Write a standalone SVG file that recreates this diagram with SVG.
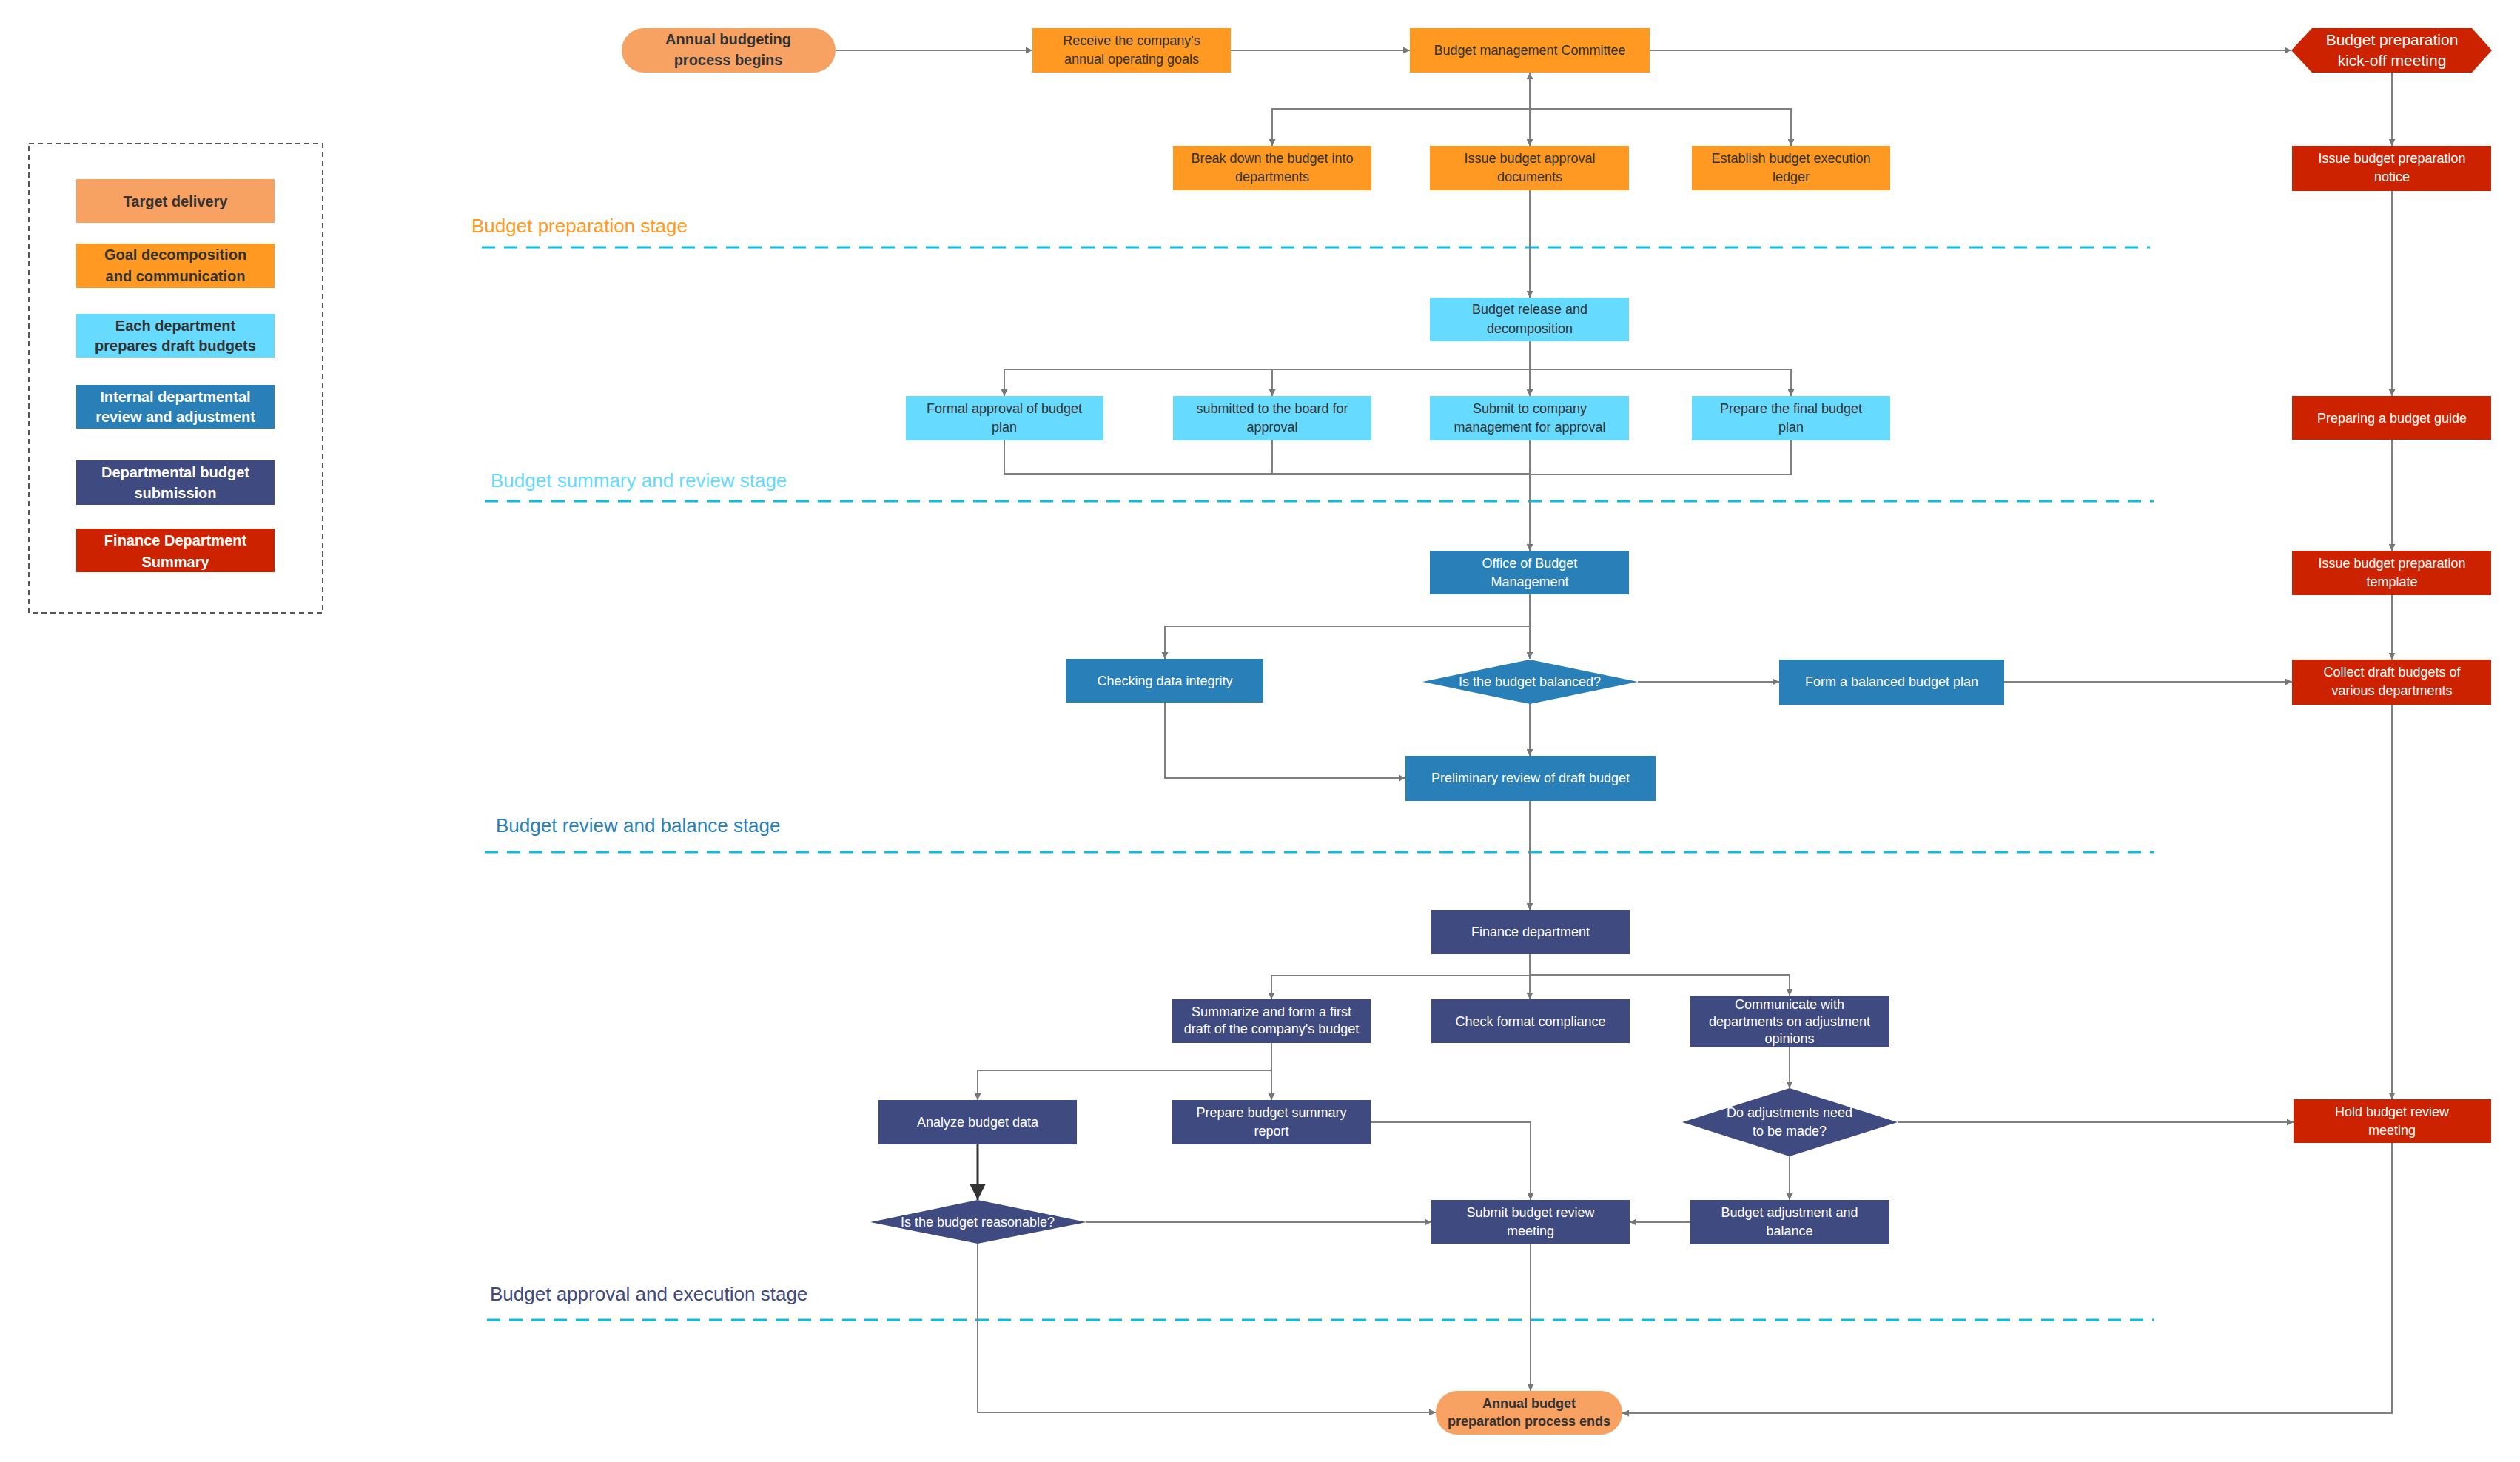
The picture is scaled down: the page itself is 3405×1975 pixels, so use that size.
<svg xmlns="http://www.w3.org/2000/svg" width="3405" height="1975" viewBox="0 0 3405 1975">
<defs>
<marker id="ar" viewBox="0 0 10 10" refX="10" refY="5" markerWidth="9" markerHeight="9" markerUnits="userSpaceOnUse" orient="auto"><path d="M0,0 L10,5 L0,10 z" fill="#777"/></marker>
<marker id="ar2" viewBox="0 0 10 10" refX="10" refY="5" markerWidth="7" markerHeight="7" orient="auto"><path d="M0,0 L10,5 L0,10 z" fill="#333"/></marker>
<style>
text{font-family:"Liberation Sans",Arial,sans-serif;text-anchor:middle;dominant-baseline:central}
.t{font-size:18px}
.d{fill:#333}
.w{fill:#fff}
.b{font-weight:bold;font-size:20px}
.peach{fill:#F7A163}
.org{fill:#FF9922}
.cyan{fill:#66DAFF}
.blue{fill:#2980B9}
.navy{fill:#3F4A80}
.red{fill:#CC2200}
.stage{font-size:26px;text-anchor:start}
.dash{stroke:#0BBEE0;stroke-width:3;stroke-dasharray:18 12;fill:none}
#connectors path{fill:none;stroke:#808080;stroke-width:2}
</style>
</defs>
<rect x="0" y="0" width="3405" height="1975" fill="#fff"/>

<g id="legend">
<rect x="39" y="194" width="397" height="634" fill="none" stroke="#555" stroke-width="2" stroke-dasharray="7 5"/>
<rect x="103" y="242" width="268" height="59" class="peach"/><text x="237" y="271.5" class="b d">Target delivery</text>
<rect x="103" y="329" width="268" height="60" class="org"/><text x="237" y="344" class="b d">Goal decomposition</text><text x="237" y="373" class="b d">and communication</text>
<rect x="103" y="424" width="268" height="59" class="cyan"/><text x="237" y="440" class="b d">Each department</text><text x="237" y="467" class="b d">prepares draft budgets</text>
<rect x="103" y="520" width="268" height="59" class="blue"/><text x="237" y="536" class="b w">Internal departmental</text><text x="237" y="563" class="b w">review and adjustment</text>
<rect x="103" y="622" width="268" height="60" class="navy"/><text x="237" y="638" class="b w">Departmental budget</text><text x="237" y="666" class="b w">submission</text>
<rect x="103" y="714" width="268" height="59" class="red"/><text x="237" y="730" class="b w">Finance Department</text><text x="237" y="759" class="b w">Summary</text>
</g>

<g id="stages">
<text x="637" y="305" class="stage" fill="#FF9922">Budget preparation stage</text>
<path d="M651,334 H2905" class="dash"/>
<text x="663" y="649" class="stage" fill="#66D9FF">Budget summary and review stage</text>
<path d="M655,677 H2910" class="dash"/>
<text x="670" y="1115" class="stage" fill="#2980B9">Budget review and balance stage</text>
<path d="M655,1151 H2911" class="dash"/>
<text x="662" y="1748" class="stage" fill="#3F4A80">Budget approval and execution stage</text>
<path d="M658,1783 H2911" class="dash"/>
</g>

<g id="connectors">
<path d="M1129,68 H1395" marker-end="url(#ar)"/>
<path d="M1663,68 H1905" marker-end="url(#ar)"/>
<path d="M2229,68 H3096" marker-end="url(#ar)"/>
<path d="M2067,147 V98" marker-end="url(#ar)"/>
<path d="M2067,98 V197" marker-end="url(#ar)"/>
<path d="M2067,147 H1719 V197" marker-end="url(#ar)"/>
<path d="M2067,147 H2420 V197" marker-end="url(#ar)"/>
<path d="M2067,257 V402" marker-end="url(#ar)"/>
<path d="M2067,461 V535" marker-end="url(#ar)"/>
<path d="M2067,499 H1357 V535" marker-end="url(#ar)"/>
<path d="M1719,499 V535" marker-end="url(#ar)"/>
<path d="M2067,499 H2420 V535" marker-end="url(#ar)"/>
<path d="M1357,595 V640 H2067"/>
<path d="M1719,595 V640"/>
<path d="M2420,595 V641 H2067"/>
<path d="M2067,595 V744" marker-end="url(#ar)"/>
<path d="M2067,803 V890" marker-end="url(#ar)"/>
<path d="M2067,846 H1574 V890" marker-end="url(#ar)"/>
<path d="M2213,921 H2404" marker-end="url(#ar)"/>
<path d="M2708,921 H3097" marker-end="url(#ar)"/>
<path d="M2067,951 V1021" marker-end="url(#ar)"/>
<path d="M1574,949 V1051 H1899" marker-end="url(#ar)"/>
<path d="M2067,1082 V1229" marker-end="url(#ar)"/>
<path d="M2067,1289 V1350" marker-end="url(#ar)"/>
<path d="M2067,1318 H1718 V1350" marker-end="url(#ar)"/>
<path d="M2067,1317 H2418 V1345" marker-end="url(#ar)"/>
<path d="M1718,1409 V1486" marker-end="url(#ar)"/>
<path d="M1718,1446 H1321 V1486" marker-end="url(#ar)"/>
<path d="M1321,1546 V1621" marker-end="url(#ar2)" style="stroke:#333;stroke-width:3"/>
<path d="M1468,1651 H1934" marker-end="url(#ar)"/>
<path d="M1852,1516 H2068 V1621" marker-end="url(#ar)"/>
<path d="M2418,1415 V1470" marker-end="url(#ar)"/>
<path d="M2564,1516 H3099" marker-end="url(#ar)"/>
<path d="M2418,1562 V1621" marker-end="url(#ar)"/>
<path d="M2284,1651 H2202" marker-end="url(#ar)"/>
<path d="M2068,1680 V1879" marker-end="url(#ar)"/>
<path d="M1321,1680 V1908 H1940" marker-end="url(#ar)"/>
<path d="M3232,1544 V1909 H2192" marker-end="url(#ar)"/>
<path d="M3232,98 V197" marker-end="url(#ar)"/>
<path d="M3232,258 V535" marker-end="url(#ar)"/>
<path d="M3232,594 V744" marker-end="url(#ar)"/>
<path d="M3232,804 V891" marker-end="url(#ar)"/>
<path d="M3232,952 V1485" marker-end="url(#ar)"/>
</g>

<g id="n-start"><rect x="840" y="38" width="289" height="60" rx="30" class="peach"/><text x="984" y="53" class="b d">Annual budgeting</text><text x="984" y="81" class="b d">process begins</text></g>
<g id="n-receive"><rect x="1395" y="38" width="268" height="60" class="org"/><text x="1529" y="55" class="t d">Receive the company's</text><text x="1529" y="80" class="t d">annual operating goals</text></g>
<g id="n-bmc"><rect x="1905" y="38" width="324" height="60" class="org"/><text x="2067" y="68" class="t d">Budget management Committee</text></g>
<g id="n-kickoff"><polygon points="3096,68 3124,38 3340,38 3367,68 3340,98 3124,98" class="red"/><text x="3232" y="53" class="w" style="font-size:21px">Budget preparation</text><text x="3232" y="81" class="w" style="font-size:21px">kick-off meeting</text></g>
<g id="n-break"><rect x="1585" y="197" width="268" height="60" class="org"/><text x="1719" y="214" class="t d">Break down the budget into</text><text x="1719" y="239" class="t d">departments</text></g>
<g id="n-issueappr"><rect x="1932" y="197" width="269" height="60" class="org"/><text x="2067" y="214" class="t d">Issue budget approval</text><text x="2067" y="239" class="t d">documents</text></g>
<g id="n-ledger"><rect x="2286" y="197" width="268" height="60" class="org"/><text x="2420" y="214" class="t d">Establish budget execution</text><text x="2420" y="239" class="t d">ledger</text></g>
<g id="n-notice"><rect x="3097" y="197" width="269" height="61" class="red"/><text x="3232" y="214" class="t w">Issue budget preparation</text><text x="3232" y="239" class="t w">notice</text></g>
<g id="n-release"><rect x="1932" y="402" width="269" height="59" class="cyan"/><text x="2067" y="418" class="t d">Budget release and</text><text x="2067" y="444" class="t d">decomposition</text></g>
<g id="n-formal"><rect x="1224" y="535" width="267" height="60" class="cyan"/><text x="1357" y="552" class="t d">Formal approval of budget</text><text x="1357" y="577" class="t d">plan</text></g>
<g id="n-board"><rect x="1585" y="535" width="268" height="60" class="cyan"/><text x="1719" y="552" class="t d">submitted to the board for</text><text x="1719" y="577" class="t d">approval</text></g>
<g id="n-mgmt"><rect x="1932" y="535" width="269" height="60" class="cyan"/><text x="2067" y="552" class="t d">Submit to company</text><text x="2067" y="577" class="t d">management for approval</text></g>
<g id="n-final"><rect x="2286" y="535" width="268" height="60" class="cyan"/><text x="2420" y="552" class="t d">Prepare the final budget</text><text x="2420" y="577" class="t d">plan</text></g>
<g id="n-guide"><rect x="3097" y="535" width="269" height="59" class="red"/><text x="3232" y="565" class="t w">Preparing a budget guide</text></g>
<g id="n-office"><rect x="1932" y="744" width="269" height="59" class="blue"/><text x="2067" y="761" class="t w">Office of Budget</text><text x="2067" y="786" class="t w">Management</text></g>
<g id="n-template"><rect x="3097" y="744" width="269" height="60" class="red"/><text x="3232" y="761" class="t w">Issue budget preparation</text><text x="3232" y="786" class="t w">template</text></g>
<g id="n-check"><rect x="1440" y="890" width="267" height="59" class="blue"/><text x="1574" y="920" class="t w">Checking data integrity</text></g>
<g id="n-balanced"><polygon points="1922,921 2067,891 2213,921 2067,951" class="blue"/><text x="2067" y="921" class="t w">Is the budget balanced?</text></g>
<g id="n-form"><rect x="2404" y="891" width="304" height="61" class="blue"/><text x="2556" y="921" class="t w">Form a balanced budget plan</text></g>
<g id="n-collect"><rect x="3097" y="891" width="269" height="61" class="red"/><text x="3232" y="908" class="t w">Collect draft budgets of</text><text x="3232" y="933" class="t w">various departments</text></g>
<g id="n-prelim"><rect x="1899" y="1021" width="338" height="61" class="blue"/><text x="2068" y="1051" class="t w">Preliminary review of draft budget</text></g>
<g id="n-finance"><rect x="1934" y="1229" width="268" height="60" class="navy"/><text x="2068" y="1259" class="t w">Finance department</text></g>
<g id="n-summarize"><rect x="1584" y="1350" width="268" height="59" class="navy"/><text x="1718" y="1367" class="t w">Summarize and form a first</text><text x="1718" y="1390" class="t w">draft of the company's budget</text></g>
<g id="n-format"><rect x="1934" y="1350" width="268" height="59" class="navy"/><text x="2068" y="1380" class="t w">Check format compliance</text></g>
<g id="n-communicate"><rect x="2284" y="1345" width="269" height="70" class="navy"/><text x="2418" y="1357" class="t w">Communicate with</text><text x="2418" y="1380" class="t w">departments on adjustment</text><text x="2418" y="1403" class="t w">opinions</text></g>
<g id="n-analyze"><rect x="1187" y="1486" width="268" height="60" class="navy"/><text x="1321" y="1516" class="t w">Analyze budget data</text></g>
<g id="n-report"><rect x="1584" y="1486" width="268" height="60" class="navy"/><text x="1718" y="1503" class="t w">Prepare budget summary</text><text x="1718" y="1528" class="t w">report</text></g>
<g id="n-adjust"><polygon points="2273,1516 2418,1470 2564,1516 2418,1562" class="navy"/><text x="2418" y="1503" class="t w">Do adjustments need</text><text x="2418" y="1528" class="t w">to be made?</text></g>
<g id="n-hold"><rect x="3099" y="1485" width="267" height="59" class="red"/><text x="3232" y="1502" class="t w">Hold budget review</text><text x="3232" y="1527" class="t w">meeting</text></g>
<g id="n-reasonable"><polygon points="1176,1651 1321,1621 1468,1651 1321,1680" class="navy"/><text x="1321" y="1651" class="t w">Is the budget reasonable?</text></g>
<g id="n-submit"><rect x="1934" y="1621" width="268" height="59" class="navy"/><text x="2068" y="1638" class="t w">Submit budget review</text><text x="2068" y="1663" class="t w">meeting</text></g>
<g id="n-balance"><rect x="2284" y="1621" width="269" height="60" class="navy"/><text x="2418" y="1638" class="t w">Budget adjustment and</text><text x="2418" y="1663" class="t w">balance</text></g>
<g id="n-end"><rect x="1940" y="1879" width="252" height="59" rx="29" class="peach"/><text x="2066" y="1896" class="d" style="font-weight:bold;font-size:18px">Annual budget</text><text x="2066" y="1920" class="d" style="font-weight:bold;font-size:18px">preparation process ends</text></g>
</svg>
